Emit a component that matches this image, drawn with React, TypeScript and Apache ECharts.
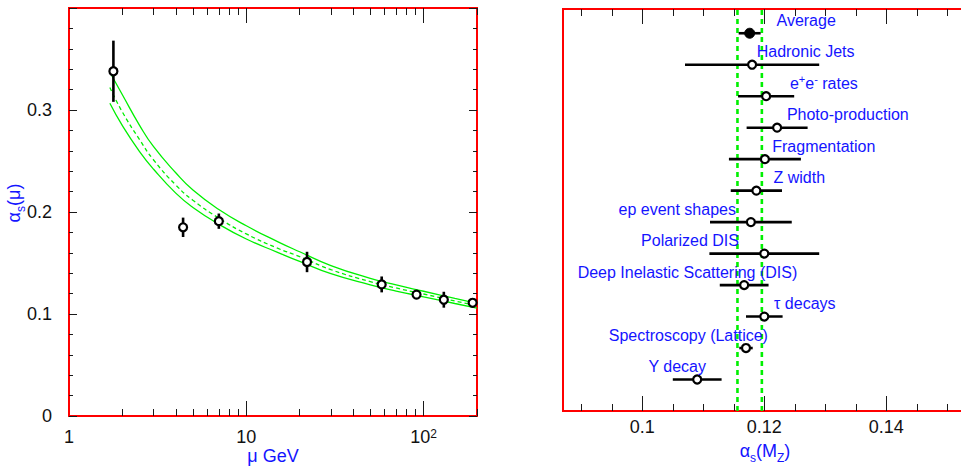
import React, { useEffect, useRef } from "react";
import * as echarts from "echarts";

// ---- Left panel: alpha_s measured at different scales mu (GeV) ----
const muPoints = [1.78, 4.4, 7.0, 22, 58, 91.2, 130, 189];
const alphaPoints = [0.338, 0.185, 0.191, 0.151, 0.129, 0.119, 0.114, 0.111];
const alphaErrors = [0.03, 0.0095, 0.0075, 0.01, 0.0078, 0.003, 0.0078, 0.003];

// QCD running band: upper edge, central value, lower edge
const bandMu = [1.7, 2, 2.5, 3, 4, 5, 7, 10, 15, 20, 30, 50, 70, 100, 150, 200];
const bandUpper = [0.337, 0.315, 0.285, 0.264, 0.2385, 0.2215, 0.2025, 0.1865, 0.171, 0.161, 0.1475, 0.135, 0.1285, 0.1223, 0.1153, 0.1105];
const bandCentral = [0.322, 0.298, 0.271, 0.251, 0.2265, 0.2115, 0.194, 0.1785, 0.1645, 0.1563, 0.1435, 0.1318, 0.1255, 0.1196, 0.1128, 0.1082];
const bandLower = [0.3066, 0.2847, 0.2593, 0.2419, 0.2185, 0.2045, 0.188, 0.1735, 0.1605, 0.1515, 0.1395, 0.1286, 0.1225, 0.1168, 0.1103, 0.1058];

const muTickLabels = [1, 10, 100];
const muMinorTicks = [2, 3, 4, 5, 6, 7, 8, 9, 20, 30, 40, 50, 60, 70, 80, 90, 200];
const alphaTickLabels = [0, 0.1, 0.2, 0.3];

// ---- Right panel: alpha_s(M_Z) by method ----
const methods = [
  "Average",
  "Hadronic Jets",
  "e{sup|+}e{sup|-} rates",
  "Photo-production",
  "Fragmentation",
  "Z width",
  "ep event shapes",
  "Polarized DIS",
  "Deep Inelastic Scattering (DIS)",
  "τ decays",
  "Spectroscopy (Lattice)",
  "Υ decay",
];
const alphaMZ = [0.1176, 0.118, 0.1203, 0.1221, 0.1201, 0.1187, 0.1178, 0.12, 0.1167, 0.12, 0.117, 0.109];
const alphaMZErr = [0.0018, 0.011, 0.0046, 0.005, 0.0059, 0.0042, 0.0067, 0.009, 0.004, 0.003, 0.0011, 0.004];
// where each method's caption starts along the alpha_s axis
const labelAnchor = [0.122, 0.11875, 0.1242, 0.1237, 0.1213, 0.1215, 0.0961, 0.0998, 0.0894, 0.1216, 0.0945, 0.101];
const averageBand = [0.1156, 0.1196];

const mzTickLabels = [0.1, 0.12, 0.14];
const mzMinorTicks = [0.09, 0.095, 0.105, 0.11, 0.115, 0.125, 0.13, 0.135, 0.145, 0.15, 0.155];

const FONT = "'Liberation Sans', Arial, Helvetica, sans-serif";
const BLUE = "#1414ff";
const RED = "#ff0000";
const GREEN = "#00f000";
const TICK = "#1a1a1a";

const MU_RANGE = { min: 1, max: 200 };
const ALPHA_RANGE = { min: 0, max: 0.4 };
const MZ_RANGE = { min: 0.087, max: 0.1575 };
const ROW_RANGE = { min: 0, max: 12.77 };

const supRich = {
  sup: { fontSize: 11, verticalAlign: "top" as const, fontFamily: FONT, color: BLUE },
};
const subRich = {
  sub: { fontSize: 12, verticalAlign: "bottom" as const, fontFamily: FONT, color: BLUE, lineHeight: 26 },
};

function tickAxis(
  gridIndex: number,
  type: "log" | "value",
  position: "bottom" | "top",
  range: { min: number; max: number },
  ticks: number[],
  length: number,
  labels?: object
) {
  return {
    type,
    gridIndex,
    position,
    ...range,
    ...(type === "log" ? { logBase: 10 } : {}),
    axisLine: { show: false },
    splitLine: { show: false },
    axisTick: { show: true, inside: true, length, customValues: ticks, lineStyle: { color: TICK, width: 1 } },
    axisLabel: labels ?? { show: false },
  };
}

function buildOption() {
  const leftBars = muPoints.map((m, i) => [m, alphaPoints[i] - alphaErrors[i], alphaPoints[i] + alphaErrors[i]]);
  const rows = methods.map((_, i) => methods.length - i);
  const rightBars = rows.map((r, i) => [r, alphaMZ[i] - alphaMZErr[i], alphaMZ[i] + alphaMZErr[i]]);

  const tickLabelStyle = { fontSize: 18, color: "#111", fontFamily: FONT };

  return {
    animation: false,
    backgroundColor: "#fff",
    textStyle: { fontFamily: FONT },
    grid: [
      {
        left: 69,
        top: 8,
        width: 408,
        height: 408,
        show: true,
        borderColor: RED,
        borderWidth: 2,
        containLabel: false,
        outerBoundsMode: "none",
      },
      {
        left: 563,
        top: 9,
        width: (MZ_RANGE.max - MZ_RANGE.min) * 6100,
        height: 402,
        show: true,
        borderColor: RED,
        borderWidth: 2,
        containLabel: false,
        outerBoundsMode: "none",
      },
    ],
    xAxis: [
      tickAxis(0, "log", "bottom", MU_RANGE, [10, 100], 15, {
        show: true,
        customValues: muTickLabels,
        margin: 12,
        lineHeight: 18,
        ...tickLabelStyle,
        formatter: (v: number) => (Math.round(v) === 100 ? "10{sup|2}" : String(Math.round(v))),
        rich: { sup: { fontSize: 12, verticalAlign: "top", color: "#111", fontFamily: FONT } },
      }),
      tickAxis(0, "log", "bottom", MU_RANGE, muMinorTicks, 7),
      tickAxis(0, "log", "top", MU_RANGE, [10, 100], 15),
      tickAxis(0, "log", "top", MU_RANGE, muMinorTicks, 7),
      tickAxis(1, "value", "bottom", MZ_RANGE, mzTickLabels, 15, {
        show: true,
        customValues: mzTickLabels,
        margin: 7,
        ...tickLabelStyle,
      }),
      tickAxis(1, "value", "bottom", MZ_RANGE, mzMinorTicks, 7),
      tickAxis(1, "value", "top", MZ_RANGE, mzTickLabels, 15),
      tickAxis(1, "value", "top", MZ_RANGE, mzMinorTicks, 7),
    ],
    yAxis: [
      {
        type: "value",
        gridIndex: 0,
        position: "left",
        ...ALPHA_RANGE,
        interval: 0.1,
        axisLine: { show: false },
        splitLine: { show: false },
        axisTick: { show: true, inside: true, length: 8, lineStyle: { color: TICK } },
        minorTick: { show: true, splitNumber: 5, length: 4, lineStyle: { color: TICK } },
        axisLabel: { customValues: alphaTickLabels, margin: 17, ...tickLabelStyle },
      },
      {
        type: "value",
        gridIndex: 0,
        position: "right",
        ...ALPHA_RANGE,
        interval: 0.1,
        axisLine: { show: false },
        splitLine: { show: false },
        axisTick: { show: true, inside: true, length: 8, lineStyle: { color: TICK } },
        minorTick: { show: true, splitNumber: 5, length: 4, lineStyle: { color: TICK } },
        axisLabel: { show: false },
      },
      { type: "value", gridIndex: 1, ...ROW_RANGE, show: false },
    ],
    graphic: [
      {
        type: "text",
        x: 273,
        y: 456,
        style: { text: "μ GeV", fill: BLUE, fontSize: 18, fontFamily: FONT, align: "center", verticalAlign: "middle" },
      },
      {
        type: "text",
        x: 765,
        y: 451,
        style: {
          text: "α{sub|s}(M{sub|Z})",
          fill: BLUE,
          fontSize: 18,
          fontFamily: FONT,
          align: "center",
          verticalAlign: "middle",
          lineHeight: 24,
          rich: subRich,
        },
      },
      {
        type: "text",
        x: 14,
        y: 203,
        rotation: Math.PI / 2,
        style: {
          text: "α{sub|s}(μ)",
          fill: BLUE,
          fontSize: 18,
          fontFamily: FONT,
          align: "center",
          verticalAlign: "middle",
          lineHeight: 24,
          rich: subRich,
        },
      },
    ],
    series: [
      // running coupling band
      ...[
        { data: bandUpper, type: "solid" },
        { data: bandCentral, type: [4, 3] },
        { data: bandLower, type: "solid" },
      ].map((c) => ({
        type: "line",
        xAxisIndex: 0,
        yAxisIndex: 0,
        showSymbol: false,
        smooth: 0.5,
        lineStyle: { color: GREEN, width: 1.3, type: c.type },
        data: bandMu.map((m, i) => [m, c.data[i]]),
        z: 2,
      })),
      {
        type: "custom",
        xAxisIndex: 0,
        yAxisIndex: 0,
        encode: { x: 0, y: [1, 2] },
        data: leftBars,
        z: 3,
        renderItem: (_p: any, api: any) => {
          const a = api.coord([api.value(0), api.value(1)]);
          const b = api.coord([api.value(0), api.value(2)]);
          return {
            type: "line",
            shape: { x1: a[0], y1: a[1], x2: b[0], y2: b[1] },
            style: { stroke: "#000", lineWidth: 2.6 },
          };
        },
      },
      {
        type: "scatter",
        xAxisIndex: 0,
        yAxisIndex: 0,
        symbol: "circle",
        symbolSize: 8,
        itemStyle: { color: "#fff", borderColor: "#000", borderWidth: 2.2, opacity: 1 },
        data: muPoints.map((m, i) => [m, alphaPoints[i]]),
        z: 4,
      },
      // world-average band edges
      ...averageBand.map((v) => ({
        type: "line",
        xAxisIndex: 4,
        yAxisIndex: 2,
        showSymbol: false,
        lineStyle: { color: GREEN, width: 2.6, type: [5, 4] },
        data: [
          [v, ROW_RANGE.min],
          [v, ROW_RANGE.max],
        ],
        z: 2,
      })),
      {
        type: "custom",
        xAxisIndex: 4,
        yAxisIndex: 2,
        encode: { x: [1, 2], y: 0 },
        data: rightBars,
        z: 3,
        renderItem: (_p: any, api: any) => {
          const a = api.coord([api.value(1), api.value(0)]);
          const b = api.coord([api.value(2), api.value(0)]);
          return {
            type: "line",
            shape: { x1: a[0], y1: a[1], x2: b[0], y2: b[1] },
            style: { stroke: "#000", lineWidth: 2.6 },
          };
        },
      },
      {
        type: "scatter",
        xAxisIndex: 4,
        yAxisIndex: 2,
        symbol: "circle",
        z: 4,
        itemStyle: { opacity: 1 },
        data: rows.map((r, i) => ({
          value: [alphaMZ[i], r],
          symbolSize: i === 0 ? 10 : 8,
          itemStyle:
            i === 0
              ? { color: "#000", borderColor: "#000", borderWidth: 1, opacity: 1 }
              : { color: "#fff", borderColor: "#000", borderWidth: 2.2, opacity: 1 },
        })),
      },
      {
        type: "scatter",
        xAxisIndex: 4,
        yAxisIndex: 2,
        symbolSize: 0.01,
        itemStyle: { color: "transparent", opacity: 1 },
        silent: true,
        z: 5,
        data: rows.map((r, i) => ({ value: [labelAnchor[i], r], name: methods[i] })),
        label: {
          show: true,
          position: "right",
          distance: 0,
          offset: [0, -13],
          formatter: (p: any) => p.name,
          color: BLUE,
          opacity: 1,
          fontSize: 16,
          fontFamily: FONT,
          lineHeight: 20,
          rich: supRich,
        },
      },
    ],
  };
}

export default function App() {
  const ref = useRef<HTMLDivElement>(null);
  useEffect(() => {
    if (!ref.current) return;
    const chart = echarts.init(ref.current, null, { renderer: "svg" });
    chart.setOption(buildOption() as any);
    return () => chart.dispose();
  }, []);
  return (
    <div
      ref={ref}
      style={{ position: "fixed", left: 0, top: 0, width: 961, height: 467, background: "#fff" }}
    />
  );
}
